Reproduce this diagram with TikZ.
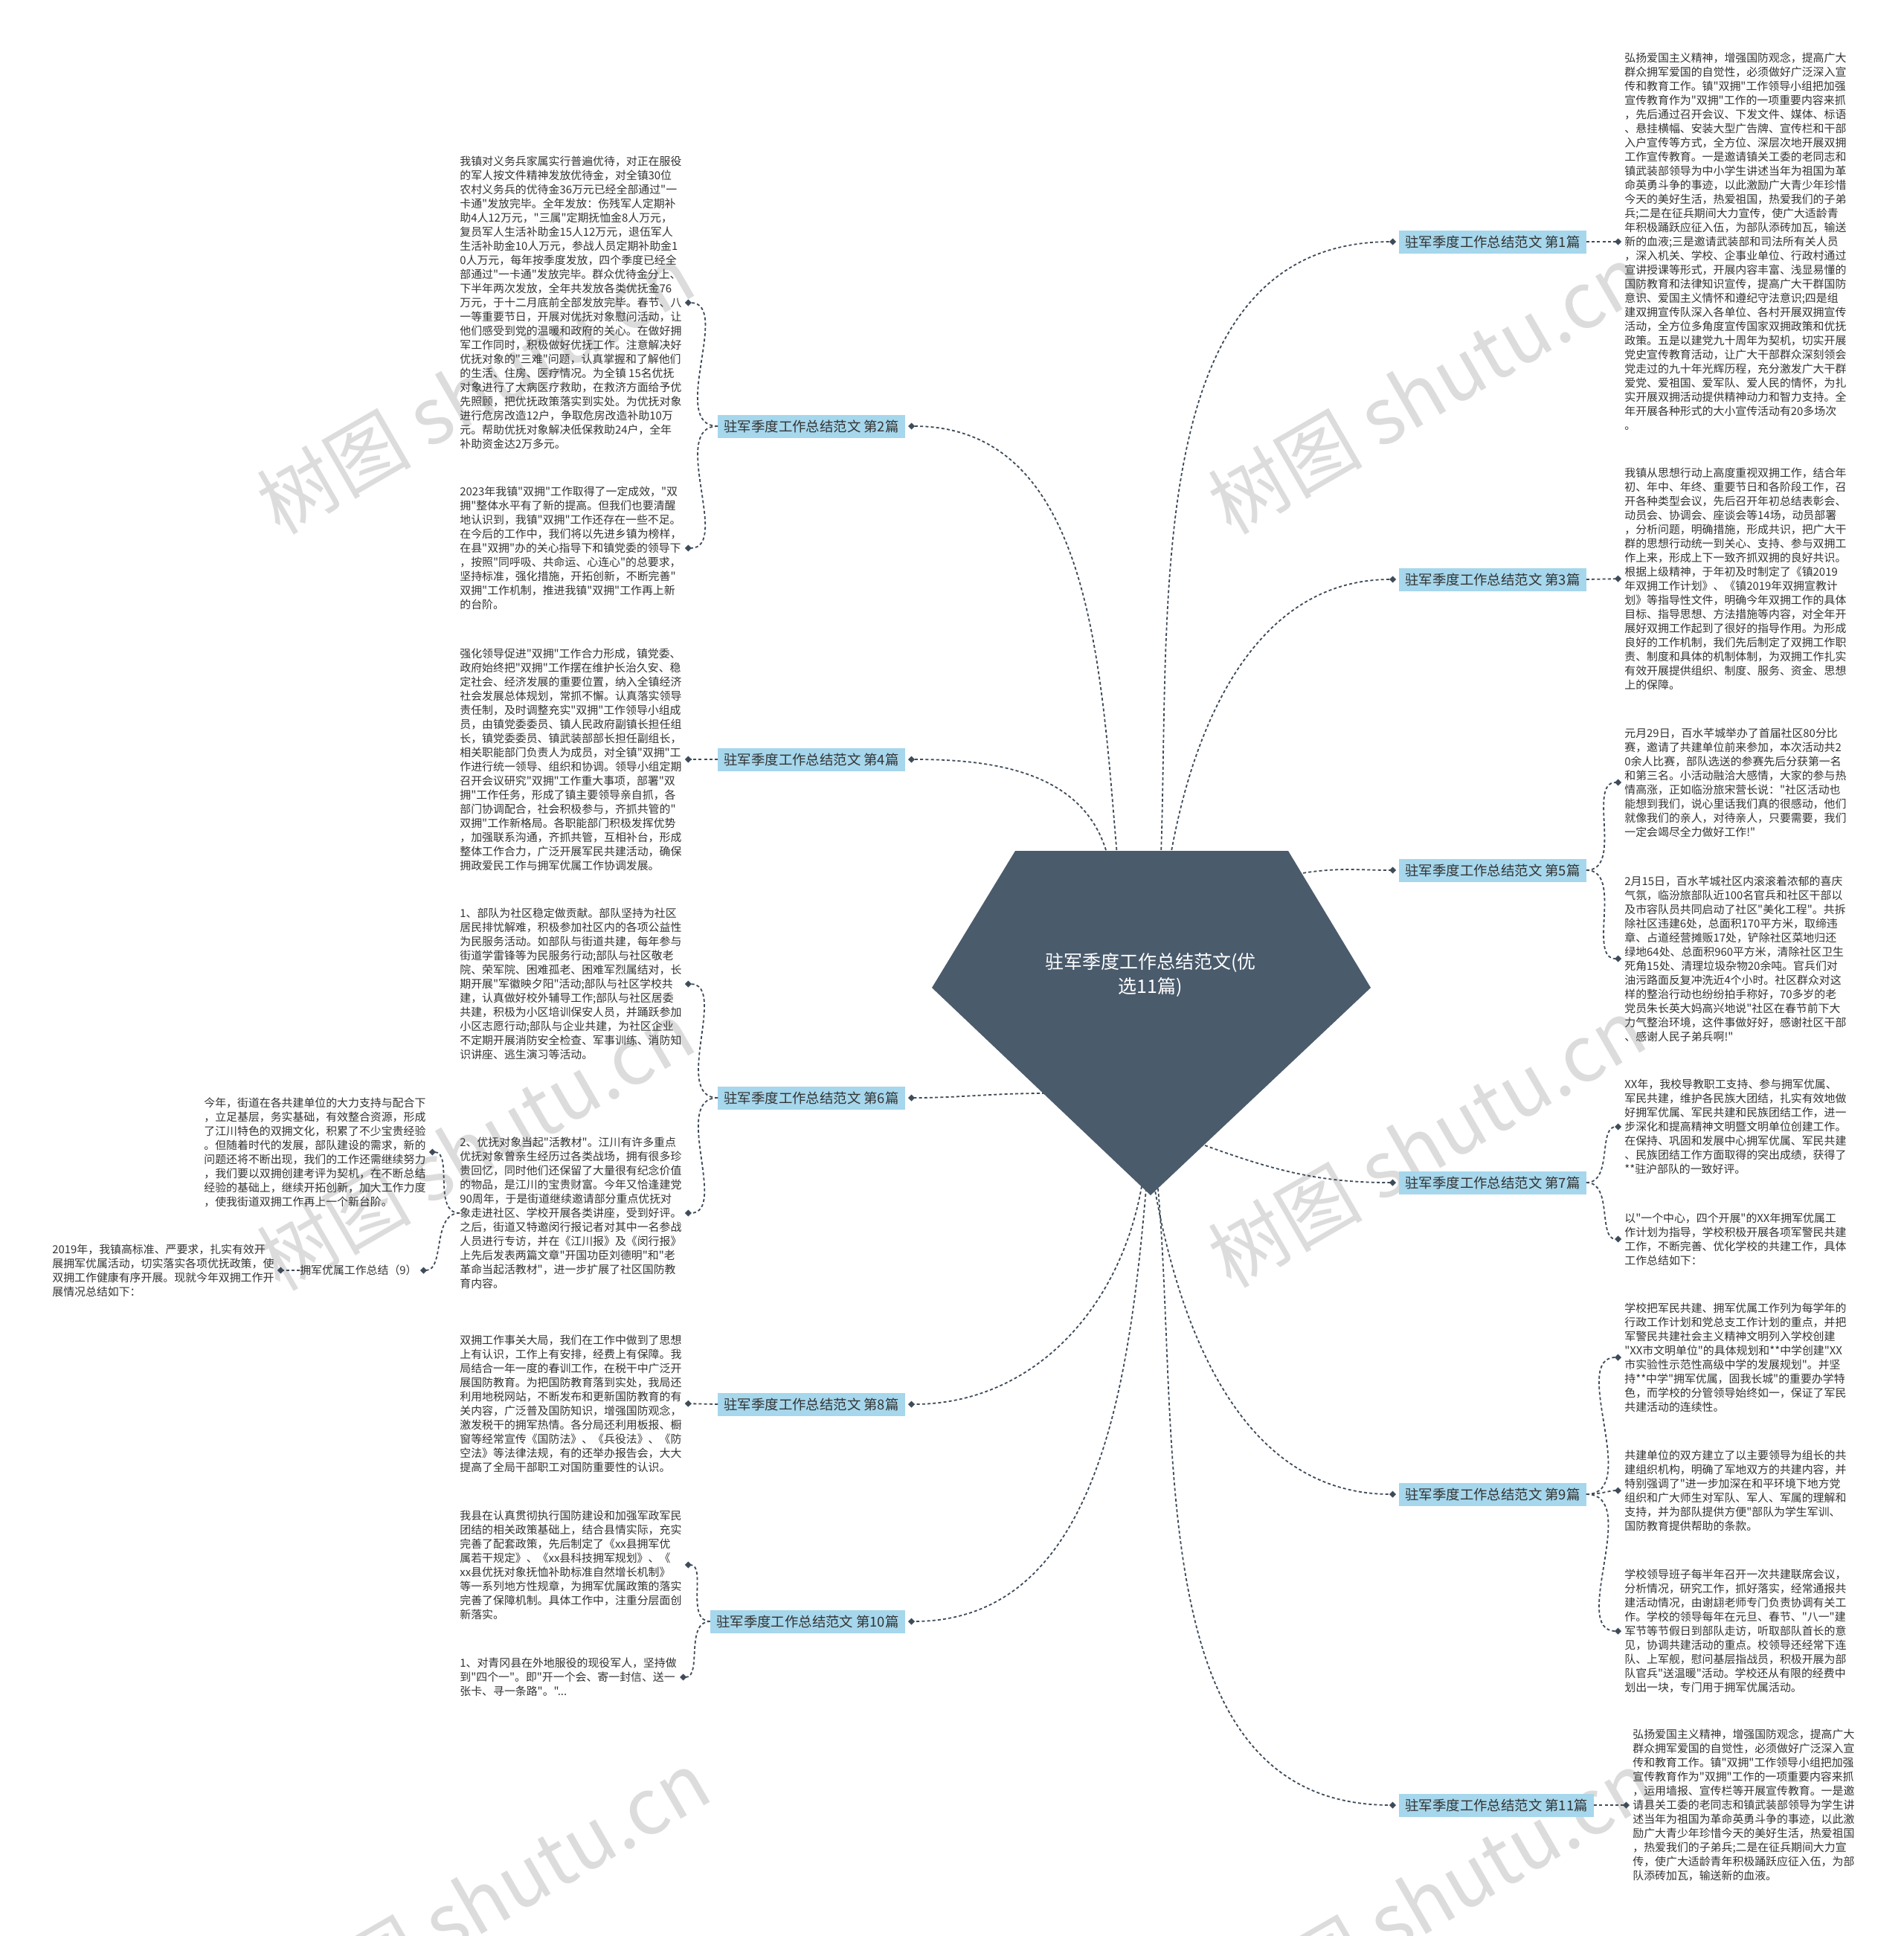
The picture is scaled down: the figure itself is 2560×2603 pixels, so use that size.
\documentclass[tikz,border=0pt]{standalone}
\usepackage{fontspec}
\newfontfamily\shufont{Noto Sans CJK SC}
\usetikzlibrary{arrows.meta}
\definecolor{ShuSlate}{HTML}{4A5B6C}
\definecolor{ShuBlue}{HTML}{A6D7EC}
\definecolor{ShuLine}{HTML}{3E4B59}
\definecolor{ShuText}{HTML}{333333}
\definecolor{ShuMark}{HTML}{DCDCDC}
\tikzset{
    % Node styles
    rootbox/.style={
        text=white,
        align=center,
        font=\shufont\fontsize{12.5pt}{16.5pt}\selectfont
    },
    branchbox/.style={
        rectangle,
        fill=ShuBlue,
        text=ShuText,
        inner xsep=4pt,
        inner ysep=0pt,
        minimum height=15.5pt,
        font=\shufont\fontsize{9.2pt}{11pt}\selectfont
    },
    leafbox/.style={
        inner sep=0pt,
        align=left,
        text=ShuText,
        font=\shufont\fontsize{7.45pt}{9.5pt}\selectfont
    },
    % Connector styles
    link/.style={
        draw=ShuLine,
        line width=0.9pt,
        dash pattern=on 2pt off 1.6pt,
        -{Diamond[length=4.5pt,width=4.5pt]},
        shorten >=2pt
    },
    watermark/.style={
        text=ShuMark,
        rotate=30,
        font=\shufont\fontsize{52pt}{52pt}\selectfont
    }
}
\begin{document}
\begin{tikzpicture}[x=0.5pt,y=0.5pt]
            \useasboundingbox (0,0) rectangle (2560,-2603);
            \fill[white] (0,0) rectangle (2560,-2603);

            % Watermarks
            \node[watermark] (wm1) at (639,-523) {树图 shutu.cn};
            \node[watermark] (wm2) at (1918,-523) {树图 shutu.cn};
            \node[watermark] (wm3) at (639,-1540) {树图 shutu.cn};
            \node[watermark] (wm4) at (1918,-1536) {树图 shutu.cn};
            \node[watermark] (wm5) at (660,-2548) {树图 shutu.cn};
            \node[watermark] (wm6) at (1930,-2548) {树图 shutu.cn};

            % Start points on the root shape
            \coordinate (r1) at (1561,-1150);
            \coordinate (r2) at (1502,-1150);
            \coordinate (r3) at (1574,-1150);
            \coordinate (r4) at (1489,-1150);
            \coordinate (r5) at (1745,-1175);
            \coordinate (r6) at (1405,-1470);
            \coordinate (r7) at (1620,-1540);
            \coordinate (r8) at (1535,-1595);
            \coordinate (r9) at (1552,-1595);
            \coordinate (r10) at (1541,-1598);
            \coordinate (r11) at (1557,-1598);

            % Branches
            \node[branchbox, anchor=west] (b1) at (1881,-325) {驻军季度工作总结范文 第1篇};
            \node[branchbox, anchor=east] (b2) at (1217,-573) {驻军季度工作总结范文 第2篇};
            \node[branchbox, anchor=west] (b3) at (1881,-779) {驻军季度工作总结范文 第3篇};
            \node[branchbox, anchor=east] (b4) at (1217,-1021) {驻军季度工作总结范文 第4篇};
            \node[branchbox, anchor=west] (b5) at (1881,-1170) {驻军季度工作总结范文 第5篇};
            \node[branchbox, anchor=east] (b6) at (1217,-1476) {驻军季度工作总结范文 第6篇};
            \node[branchbox, anchor=west] (b7) at (1881,-1590) {驻军季度工作总结范文 第7篇};
            \node[branchbox, anchor=east] (b8) at (1217,-1888) {驻军季度工作总结范文 第8篇};
            \node[branchbox, anchor=west] (b9) at (1881,-2009) {驻军季度工作总结范文 第9篇};
            \node[branchbox, anchor=east] (b10) at (1217,-2180) {驻军季度工作总结范文 第10篇};
            \node[branchbox, anchor=west] (b11) at (1881,-2427) {驻军季度工作总结范文 第11篇};

            % Root to branches
            \draw[link] (r1) to[out=88,in=180] (b1.west);
            \draw[link] (r2) to[out=95,in=0] (b2.east);
            \draw[link] (r3) to[out=80,in=180] (b3.west);
            \draw[link] (r4) to[out=105,in=0] (b4.east);
            \draw[link] (r5) to[out=10,in=180] (b5.west);
            \draw[link] (r6) to[out=180,in=0] (b6.east);
            \draw[link] (r7) to[out=-20,in=180] (b7.west);
            \draw[link] (r8) to[out=-100,in=0] (b8.east);
            \draw[link] (r9) to[out=-80,in=180] (b9.west);
            \draw[link] (r10) to[out=-95,in=0] (b10.east);
            \draw[link] (r11) to[out=-85,in=180] (b11.west);

            % Root
            \fill[ShuSlate] (1365,-1144) -- (1732,-1144) -- (1843,-1328) -- (1547,-1607) -- (1253,-1328) -- cycle;
            \node[rootbox] (root) at (1547,-1311) {驻军季度工作总结范文(优\\选11篇)};

            % Right texts
            \node[leafbox, anchor=west] (t1) at (2184,-325) {弘扬爱国主义精神，增强国防观念，提高广大\\群众拥军爱国的自觉性，必须做好广泛深入宣\\传和教育工作。镇"双拥"工作领导小组把加强\\宣传教育作为"双拥"工作的一项重要内容来抓\\，先后通过召开会议、下发文件、媒体、标语\\、悬挂横幅、安装大型广告牌、宣传栏和干部\\入户宣传等方式，全方位、深层次地开展双拥\\工作宣传教育。一是邀请镇关工委的老同志和\\镇武装部领导为中小学生讲述当年为祖国为革\\命英勇斗争的事迹，以此激励广大青少年珍惜\\今天的美好生活，热爱祖国，热爱我们的子弟\\兵;二是在征兵期间大力宣传，使广大适龄青\\年积极踊跃应征入伍，为部队添砖加瓦，输送\\新的血液;三是邀请武装部和司法所有关人员\\，深入机关、学校、企事业单位、行政村通过\\宣讲授课等形式，开展内容丰富、浅显易懂的\\国防教育和法律知识宣传，提高广大干群国防\\意识、爱国主义情怀和遵纪守法意识;四是组\\建双拥宣传队深入各单位、各村开展双拥宣传\\活动，全方位多角度宣传国家双拥政策和优抚\\政策。五是以建党九十周年为契机，切实开展\\党史宣传教育活动，让广大干部群众深刻领会\\党走过的九十年光辉历程，充分激发广大干群\\爱党、爱祖国、爱军队、爱人民的情怀，为扎\\实开展双拥活动提供精神动力和智力支持。全\\年开展各种形式的大小宣传活动有20多场次\\。};
            \node[leafbox, anchor=west] (t3) at (2184,-778) {我镇从思想行动上高度重视双拥工作，结合年\\初、年中、年终、重要节日和各阶段工作，召\\开各种类型会议，先后召开年初总结表彰会、\\动员会、协调会、座谈会等14场，动员部署\\，分析问题，明确措施，形成共识，把广大干\\群的思想行动统一到关心、支持、参与双拥工\\作上来，形成上下一致齐抓双拥的良好共识。\\根据上级精神，于年初及时制定了《镇2019\\年双拥工作计划》、《镇2019年双拥宣教计\\划》等指导性文件，明确今年双拥工作的具体\\目标、指导思想、方法措施等内容，对全年开\\展好双拥工作起到了很好的指导作用。为形成\\良好的工作机制，我们先后制定了双拥工作职\\责、制度和具体的机制体制，为双拥工作扎实\\有效开展提供组织、制度、服务、资金、思想\\上的保障。};
            \node[leafbox, anchor=west] (t5a) at (2184,-1052) {元月29日，百水芊城举办了首届社区80分比\\赛，邀请了共建单位前来参加，本次活动共2\\0余人比赛，部队选送的参赛先后分获第一名\\和第三名。小活动融洽大感情，大家的参与热\\情高涨，正如临汾旅宋营长说："社区活动也\\能想到我们，说心里话我们真的很感动，他们\\就像我们的亲人，对待亲人，只要需要，我们\\一定会竭尽全力做好工作!"};
            \node[leafbox, anchor=west] (t5b) at (2184,-1289) {2月15日，百水芊城社区内滚滚着浓郁的喜庆\\气氛，临汾旅部队近100名官兵和社区干部以\\及市容队员共同启动了社区"美化工程"。共拆\\除社区违建6处，总面积170平方米，取缔违\\章、占道经营摊贩17处，铲除社区菜地归还\\绿地64处、总面积960平方米，清除社区卫生\\死角15处、清理垃圾杂物20余吨。官兵们对\\油污路面反复冲洗近4个小时。社区群众对这\\样的整治行动也纷纷拍手称好，70多岁的老\\党员朱长英大妈高兴地说"社区在春节前下大\\力气整治环境，这件事做好好，感谢社区干部\\、感谢人民子弟兵啊!"};
            \node[leafbox, anchor=west] (t7a) at (2184,-1515) {XX年，我校导教职工支持、参与拥军优属、\\军民共建，维护各民族大团结，扎实有效地做\\好拥军优属、军民共建和民族团结工作，进一\\步深化和提高精神文明暨文明单位创建工作。\\在保持、巩固和发展中心拥军优属、军民共建\\、民族团结工作方面取得的突出成绩，获得了\\**驻沪部队的一致好评。};
            \node[leafbox, anchor=west] (t7b) at (2184,-1666) {以"一个中心，四个开展"的XX年拥军优属工\\作计划为指导，学校积极开展各项军警民共建\\工作，不断完善、优化学校的共建工作，具体\\工作总结如下：};
            \node[leafbox, anchor=west] (t9a) at (2184,-1825) {学校把军民共建、拥军优属工作列为每学年的\\行政工作计划和党总支工作计划的重点，并把\\军警民共建社会主义精神文明列入学校创建\\"XX市文明单位"的具体规划和**中学创建"XX\\市实验性示范性高级中学的发展规划"。并坚\\持**中学"拥军优属，固我长城"的重要办学特\\色，而学校的分管领导始终如一，保证了军民\\共建活动的连续性。};
            \node[leafbox, anchor=west] (t9b) at (2184,-2004) {共建单位的双方建立了以主要领导为组长的共\\建组织机构，明确了军地双方的共建内容，并\\特别强调了"进一步加深在和平环境下地方党\\组织和广大师生对军队、军人、军属的理解和\\支持，并为部队提供方便"部队为学生军训、\\国防教育提供帮助的条款。};
            \node[leafbox, anchor=west] (t9c) at (2184,-2193) {学校领导班子每半年召开一次共建联席会议，\\分析情况，研究工作，抓好落实，经常通报共\\建活动情况，由谢翃老师专门负责协调有关工\\作。学校的领导每年在元旦、春节、"八一"建\\军节等节假日到部队走访，听取部队首长的意\\见，协调共建活动的重点。校领导还经常下连\\队、上军舰，慰问基层指战员，积极开展为部\\队官兵"送温暖"活动。学校还从有限的经费中\\划出一块，专门用于拥军优属活动。};
            \node[leafbox, anchor=west] (t11) at (2195,-2427) {弘扬爱国主义精神，增强国防观念，提高广大\\群众拥军爱国的自觉性，必须做好广泛深入宣\\传和教育工作。镇"双拥"工作领导小组把加强\\宣传教育作为"双拥"工作的一项重要内容来抓\\，运用墙报、宣传栏等开展宣传教育。一是邀\\请县关工委的老同志和镇武装部领导为学生讲\\述当年为祖国为革命英勇斗争的事迹，以此激\\励广大青少年珍惜今天的美好生活，热爱祖国\\，热爱我们的子弟兵;二是在征兵期间大力宣\\传，使广大适龄青年积极踊跃应征入伍，为部\\队添砖加瓦，输送新的血液。};

            % Left texts
            \node[leafbox, anchor=west] (t2a) at (618,-407) {我镇对义务兵家属实行普遍优待，对正在服役\\的军人按文件精神发放优待金，对全镇30位\\农村义务兵的优待金36万元已经全部通过"一\\卡通"发放完毕。全年发放：伤残军人定期补\\助4人12万元，"三属"定期抚恤金8人万元，\\复员军人生活补助金15人12万元，退伍军人\\生活补助金10人万元，参战人员定期补助金1\\0人万元，每年按季度发放，四个季度已经全\\部通过"一卡通"发放完毕。群众优待金分上、\\下半年两次发放，全年共发放各类优抚金76\\万元，于十二月底前全部发放完毕。春节、八\\一等重要节日，开展对优抚对象慰问活动，让\\他们感受到党的温暖和政府的关心。在做好拥\\军工作同时，积极做好优抚工作。注意解决好\\优抚对象的"三难"问题，认真掌握和了解他们\\的生活、住房、医疗情况。为全镇 15名优抚\\对象进行了大病医疗救助，在救济方面给予优\\先照顾，把优抚政策落实到实处。为优抚对象\\进行危房改造12户，争取危房改造补助10万\\元。帮助优抚对象解决低保救助24户，全年\\补助资金达2万多元。};
            \node[leafbox, anchor=west] (t2b) at (618,-737) {2023年我镇"双拥"工作取得了一定成效，"双\\拥"整体水平有了新的提高。但我们也要清醒\\地认识到，我镇"双拥"工作还存在一些不足。\\在今后的工作中，我们将以先进乡镇为榜样，\\在县"双拥"办的关心指导下和镇党委的领导下\\，按照"同呼吸、共命运、心连心"的总要求，\\坚持标准，强化措施，开拓创新，不断完善"\\双拥"工作机制，推进我镇"双拥"工作再上新\\的台阶。};
            \node[leafbox, anchor=west] (t4) at (618,-1021) {强化领导促进"双拥"工作合力形成，镇党委、\\政府始终把"双拥"工作摆在维护长治久安、稳\\定社会、经济发展的重要位置，纳入全镇经济\\社会发展总体规划，常抓不懈。认真落实领导\\责任制，及时调整充实"双拥"工作领导小组成\\员，由镇党委委员、镇人民政府副镇长担任组\\长，镇党委委员、镇武装部部长担任副组长，\\相关职能部门负责人为成员，对全镇"双拥"工\\作进行统一领导、组织和协调。领导小组定期\\召开会议研究"双拥"工作重大事项，部署"双\\拥"工作任务，形成了镇主要领导亲自抓，各\\部门协调配合，社会积极参与，齐抓共管的"\\双拥"工作新格局。各职能部门积极发挥优势\\，加强联系沟通，齐抓共管，互相补台，形成\\整体工作合力，广泛开展军民共建活动，确保\\拥政爱民工作与拥军优属工作协调发展。};
            \node[leafbox, anchor=west] (t6a) at (618,-1323) {1、部队为社区稳定做贡献。部队坚持为社区\\居民排忧解难，积极参加社区内的各项公益性\\为民服务活动。如部队与街道共建，每年参与\\街道学雷锋等为民服务行动;部队与社区敬老\\院、荣军院、困难孤老、困难军烈属结对，长\\期开展"军徽映夕阳"活动;部队与社区学校共\\建，认真做好校外辅导工作;部队与社区居委\\共建，积极为小区培训保安人员，并踊跃参加\\小区志愿行动;部队与企业共建，为社区企业\\不定期开展消防安全检查、军事训练、消防知\\识讲座、逃生演习等活动。};
            \node[leafbox, anchor=west] (t6b) at (618,-1631) {2、优抚对象当起"活教材"。江川有许多重点\\优抚对象曾亲生经历过各类战场，拥有很多珍\\贵回忆，同时他们还保留了大量很有纪念价值\\的物品，是江川的宝贵财富。今年又恰逢建党\\90周年，于是街道继续邀请部分重点优抚对\\象走进社区、学校开展各类讲座，受到好评。\\之后，街道又特邀闵行报记者对其中一名参战\\人员进行专访，并在《江川报》及《闵行报》\\上先后发表两篇文章"开国功臣刘德明"和"老\\革命当起活教材"，进一步扩展了社区国防教\\育内容。};
            \node[leafbox, anchor=west] (t6c) at (274,-1549) {今年，街道在各共建单位的大力支持与配合下\\，立足基层，务实基础，有效整合资源，形成\\了江川特色的双拥文化，积累了不少宝贵经验\\。但随着时代的发展，部队建设的需求，新的\\问题还将不断出现，我们的工作还需继续努力\\，我们要以双拥创建考评为契机，在不断总结\\经验的基础上，继续开拓创新，加大工作力度\\，使我街道双拥工作再上一个新台阶。};
            \node[leafbox, anchor=east] (n6) at (561,-1708) {拥军优属工作总结（9）};
            \node[leafbox, anchor=west] (t6d) at (70,-1708) {2019年，我镇高标准、严要求，扎实有效开\\展拥军优属活动，切实落实各项优抚政策，使\\双拥工作健康有序开展。现就今年双拥工作开\\展情况总结如下：};
            \node[leafbox, anchor=west] (t8) at (618,-1887) {双拥工作事关大局，我们在工作中做到了思想\\上有认识，工作上有安排，经费上有保障。我\\局结合一年一度的春训工作，在税干中广泛开\\展国防教育。为把国防教育落到实处，我局还\\利用地税网站，不断发布和更新国防教育的有\\关内容，广泛普及国防知识，增强国防观念，\\激发税干的拥军热情。各分局还利用板报、橱\\窗等经常宣传《国防法》、《兵役法》、《防\\空法》等法律法规，有的还举办报告会，大大\\提高了全局干部职工对国防重要性的认识。};
            \node[leafbox, anchor=west] (t10a) at (618,-2104) {我县在认真贯彻执行国防建设和加强军政军民\\团结的相关政策基础上，结合县情实际，充实\\完善了配套政策，先后制定了《xx县拥军优\\属若干规定》、《xx县科技拥军规划》、《\\xx县优抚对象抚恤补助标准自然增长机制》\\等一系列地方性规章，为拥军优属政策的落实\\完善了保障机制。具体工作中，注重分层面创\\新落实。};
            \node[leafbox, anchor=west] (t10b) at (618,-2255) {1、对青冈县在外地服役的现役军人，坚持做\\到"四个一"。即"开一个会、寄一封信、送一\\张卡、寻一条路"。"...};

            % Branches to texts
            \draw[link] (b1.east) -- (t1.west);
            \draw[link] (b3.east) -- (t3.west);
            \draw[link] (b5.east) to[out=0,in=180] (t5a.west);
            \draw[link] (b5.east) to[out=0,in=180] (t5b.west);
            \draw[link] (b7.east) to[out=0,in=180] (t7a.west);
            \draw[link] (b7.east) to[out=0,in=180] (t7b.west);
            \draw[link] (b9.east) to[out=0,in=180] (t9a.west);
            \draw[link] (b9.east) to[out=0,in=180] (t9b.west);
            \draw[link] (b9.east) to[out=0,in=180] (t9c.west);
            \draw[link] (b11.east) -- (t11.west);
            \draw[link] (b2.west) to[out=180,in=0] (t2a.east);
            \draw[link] (b2.west) to[out=180,in=0] (t2b.east);
            \draw[link] (b4.west) -- (t4.east);
            \draw[link] (b6.west) to[out=180,in=0] (t6a.east);
            \draw[link] (b6.west) to[out=180,in=0] (t6b.east);
            \draw[link] (t6b.west) to[out=180,in=0] (t6c.east);
            \draw[link] (t6b.west) to[out=180,in=0] (n6.east);
            \draw[link] (n6.west) -- (t6d.east);
            \draw[link] (b8.west) -- (t8.east);
            \draw[link] (b10.west) to[out=180,in=0] (t10a.east);
            \draw[link] (b10.west) to[out=180,in=0] (t10b.east);
\end{tikzpicture}
\end{document}
